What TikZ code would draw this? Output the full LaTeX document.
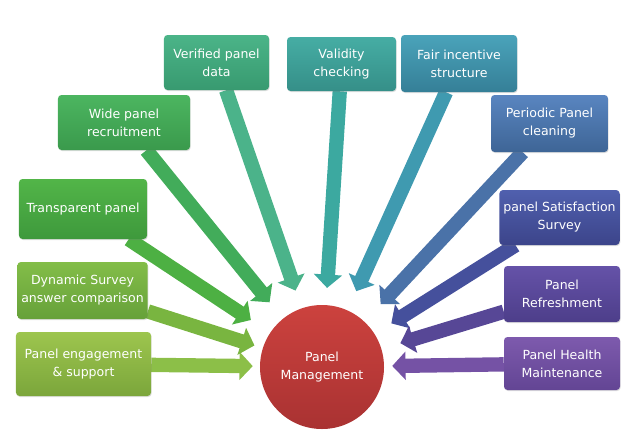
\documentclass[tikz,border=0pt]{standalone}
\usepackage{fontspec}
\setmainfont{DejaVu Sans}
\usetikzlibrary{arrows.meta,shadows,backgrounds}

\definecolor{engT}{HTML}{9DC54E}\definecolor{engB}{HTML}{7BA63B}\definecolor{engA}{HTML}{8CBF48}
\definecolor{dynT}{HTML}{83BD48}\definecolor{dynB}{HTML}{66A13A}\definecolor{dynA}{HTML}{79B540}
\definecolor{traT}{HTML}{52B548}\definecolor{traB}{HTML}{3E993C}\definecolor{traA}{HTML}{4DB043}
\definecolor{widT}{HTML}{4CB560}\definecolor{widB}{HTML}{3A9A4C}\definecolor{widA}{HTML}{42AC5A}
\definecolor{verT}{HTML}{4BB488}\definecolor{verB}{HTML}{389A70}\definecolor{verA}{HTML}{4BB38A}
\definecolor{valT}{HTML}{46ADA4}\definecolor{valB}{HTML}{358F88}\definecolor{valA}{HTML}{3CA9A0}
\definecolor{faiT}{HTML}{4AA3BA}\definecolor{faiB}{HTML}{357F97}\definecolor{faiA}{HTML}{3F9AB0}
\definecolor{perT}{HTML}{5985C0}\definecolor{perB}{HTML}{3E6596}\definecolor{perA}{HTML}{4A72A8}
\definecolor{satT}{HTML}{5060AE}\definecolor{satB}{HTML}{3C448A}\definecolor{satA}{HTML}{45509C}
\definecolor{refT}{HTML}{6552A8}\definecolor{refB}{HTML}{4D3E8A}\definecolor{refA}{HTML}{574796}
\definecolor{heaT}{HTML}{7D5AAD}\definecolor{heaB}{HTML}{634594}\definecolor{heaA}{HTML}{7552A5}
\definecolor{hubT}{HTML}{CC423E}\definecolor{hubB}{HTML}{A93232}

\begin{document}
\begin{tikzpicture}[x=0.03cm,y=-0.03cm,
  box/.style={rectangle, rounded corners=3pt, text=white, align=center,
    font=\fontsize{10.7}{15.4}\selectfont,
    drop shadow={opacity=0.25, shadow xshift=0.6pt, shadow yshift=-0.9pt}},
  arr/.style={draw=#1, line width=0.43cm, -{Triangle[length=0.4cm, width=0.83cm]}}]
\useasboundingbox (0,0) rectangle (639,439);

\node[circle, minimum size=3.72cm, top color=hubT, bottom color=hubB, text=white, align=center,
  font=\fontsize{10.7}{15.4}\selectfont] (hub) at (322,367) {Panel\\Management};

\node[box, minimum width=4.05cm, minimum height=1.92cm, top color=engT, bottom color=engB] (engage) at (83.5,364) {Panel engagement\\\& support};
\node[box, minimum width=3.87cm, minimum height=1.71cm, top color=dynT, bottom color=dynB] (dynamic) at (82.5,290.5) {Dynamic Survey\\answer comparison};
\node[box, minimum width=3.84cm, minimum height=1.8cm, top color=traT, bottom color=traB] (transp) at (83,209) {Transparent panel};
\node[box, minimum width=3.96cm, minimum height=1.65cm, top color=widT, bottom color=widB] (wide) at (124,122.5) {Wide panel\\recruitment};
\node[box, minimum width=3.15cm, minimum height=1.65cm, top color=verT, bottom color=verB] (verified) at (216.5,62.5) {Verified panel\\data};
\node[box, minimum width=3.27cm, minimum height=1.62cm, top color=valT, bottom color=valB] (validity) at (341.5,64) {Validity\\checking};
\node[box, minimum width=3.48cm, minimum height=1.71cm, top color=faiT, bottom color=faiB] (fair) at (459,63.5) {Fair incentive\\structure};
\node[box, minimum width=3.51cm, minimum height=1.71cm, top color=perT, bottom color=perB] (periodic) at (549.5,123.5) {Periodic Panel\\cleaning};
\node[box, minimum width=3.45cm, minimum height=1.65cm, top color=satT, bottom color=satB] (satisf) at (559.5,217.5) {panel Satisfaction\\Survey};
\node[box, minimum width=3.48cm, minimum height=1.68cm, top color=refT, bottom color=refB] (refresh) at (562,294) {Panel\\Refreshment};
\node[box, minimum width=3.48cm, minimum height=1.59cm, top color=heaT, bottom color=heaB] (health) at (562,363.5) {Panel Health\\Maintenance};

% arrows into the hub
\begin{scope}[on background layer]
\draw[arr=engA, shorten >=0.21cm] (engage) -- (hub);
\draw[arr=dynA, shorten >=0.26cm] (dynamic) -- (hub);
\draw[arr=traA, shorten >=0.69cm] (transp) -- (hub);
\draw[arr=widA, shorten >=0.63cm] (wide) -- (hub);
\draw[arr=verA, shorten >=0.56cm] (verified) -- (hub);
\draw[arr=valA, shorten >=0.51cm] (validity) -- (hub);
\draw[arr=faiA, shorten >=0.63cm] (fair) -- (hub);
\draw[arr=perA, shorten >=0.71cm] (periodic) -- (hub);
\draw[arr=satA, shorten >=0.59cm] (satisf) -- (hub);
\draw[arr=refA, shorten >=0.59cm] (refresh) -- (hub);
\draw[arr=heaA, shorten >=0.24cm] (health) -- (hub);
\end{scope}
\end{tikzpicture}
\end{document}
